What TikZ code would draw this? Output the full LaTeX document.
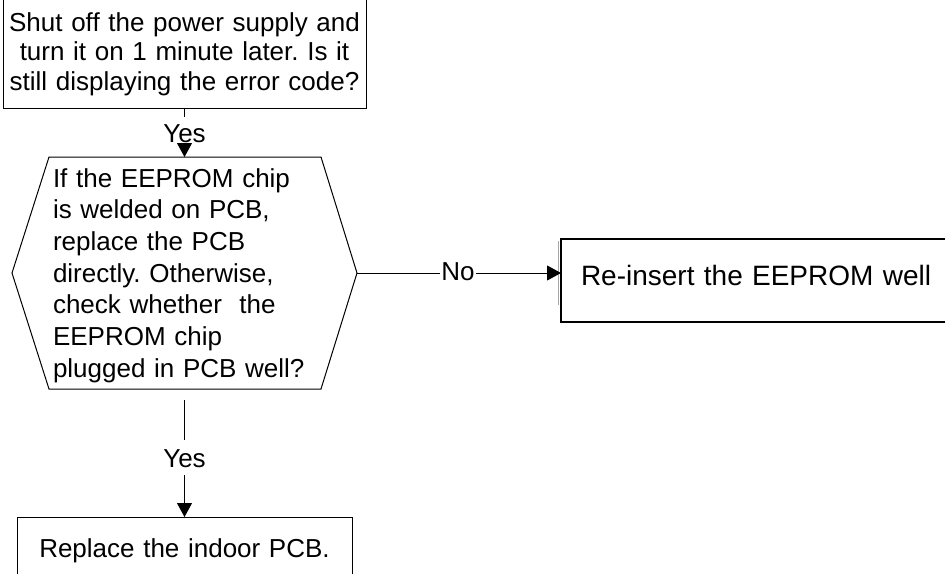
\documentclass[tikz,border=0pt]{standalone}
\usepackage{fontspec}
\setmainfont{Liberation Sans}
\usetikzlibrary{arrows.meta}
\tikzset{
  shapeline/.style={line width=1pt, draw=black},
  boxnode/.style={draw=black, line width=1pt, outer sep=0pt, inner xsep=0pt, inner ysep=0pt},
  conn/.style={line width=1pt, -{Triangle[length=14pt,width=15pt]}},
  lbl/.style={fill=white, inner xsep=1.5pt, inner ysep=0pt, outer sep=0pt, font=\fontsize{26}{30}\selectfont},
}
\begin{document}
\frenchspacing
\begin{tikzpicture}[x=1pt,y=-1pt]
\useasboundingbox (0,0) rectangle (945,573);
\clip (0,0) rectangle (945,573);

% top question box
\node[boxnode, anchor=north west, text width=363pt, align=center,
      text height=33pt, text depth=77pt,
      font=\fontsize{26}{29.5}\selectfont\frenchspacing] (q1) at (3,-2)
  {Shut off the power supply and\\turn it on 1 minute later. Is it\\still displaying the error code?};

% hexagon decision
\node[outer sep=0pt, inner xsep=0pt, inner ysep=0pt, minimum width=345pt,
      text width=263pt, align=left, text height=30pt, text depth=202pt,
      font=\fontsize{26}{31.7}\selectfont\frenchspacing] (q2) at (184.5,273)
  {If the EEPROM chip\\is welded on PCB,\\replace the PCB\\directly. Otherwise,\\check whether~ the\\EEPROM chip\\plugged in PCB well?};
\draw[shapeline] (q2.west) -- ([xshift=37pt]q2.north west) -- ([xshift=-36pt]q2.north east)
  -- (q2.east) -- ([xshift=-36pt]q2.south east) -- ([xshift=37pt]q2.south west) -- cycle;

% right action box
\node[boxnode, line width=2pt, anchor=north west, inner xsep=20pt, text width=380pt, align=left,
      text height=46pt, text depth=37pt,
      font=\fontsize{28}{32}\selectfont] (q3) at (561,239)
  {Re-insert the EEPROM well};
\draw[gray!70, line width=1pt] ([xshift=-2.5pt,yshift=-2pt]q3.north west) -- ([xshift=-2.5pt,yshift=17pt]q3.south west);

% bottom action box
\node[boxnode, anchor=north, text width=335pt, align=center,
      text height=40pt, text depth=40pt,
      font=\fontsize{26}{30}\selectfont\frenchspacing] (q4) at (184.5,517)
  {Replace the indoor PCB.};

% connectors
\draw[conn] (q1.south) -- (q2.north);
\draw[conn] (q2.east) -- (q2.east -| q3.west);
\draw[conn, shorten <=11pt] (q2.south) -- (q4.north);

% labels
\node[lbl, anchor=base, text height=25pt, text depth=1pt] (y1) at (184.5,142) {Yes};
\node[lbl, anchor=base] (n1) at (458,280) {No};
\node[lbl, anchor=base, text height=27pt, text depth=8pt] (y2) at (184.5,467) {Yes};
\end{tikzpicture}
\end{document}
